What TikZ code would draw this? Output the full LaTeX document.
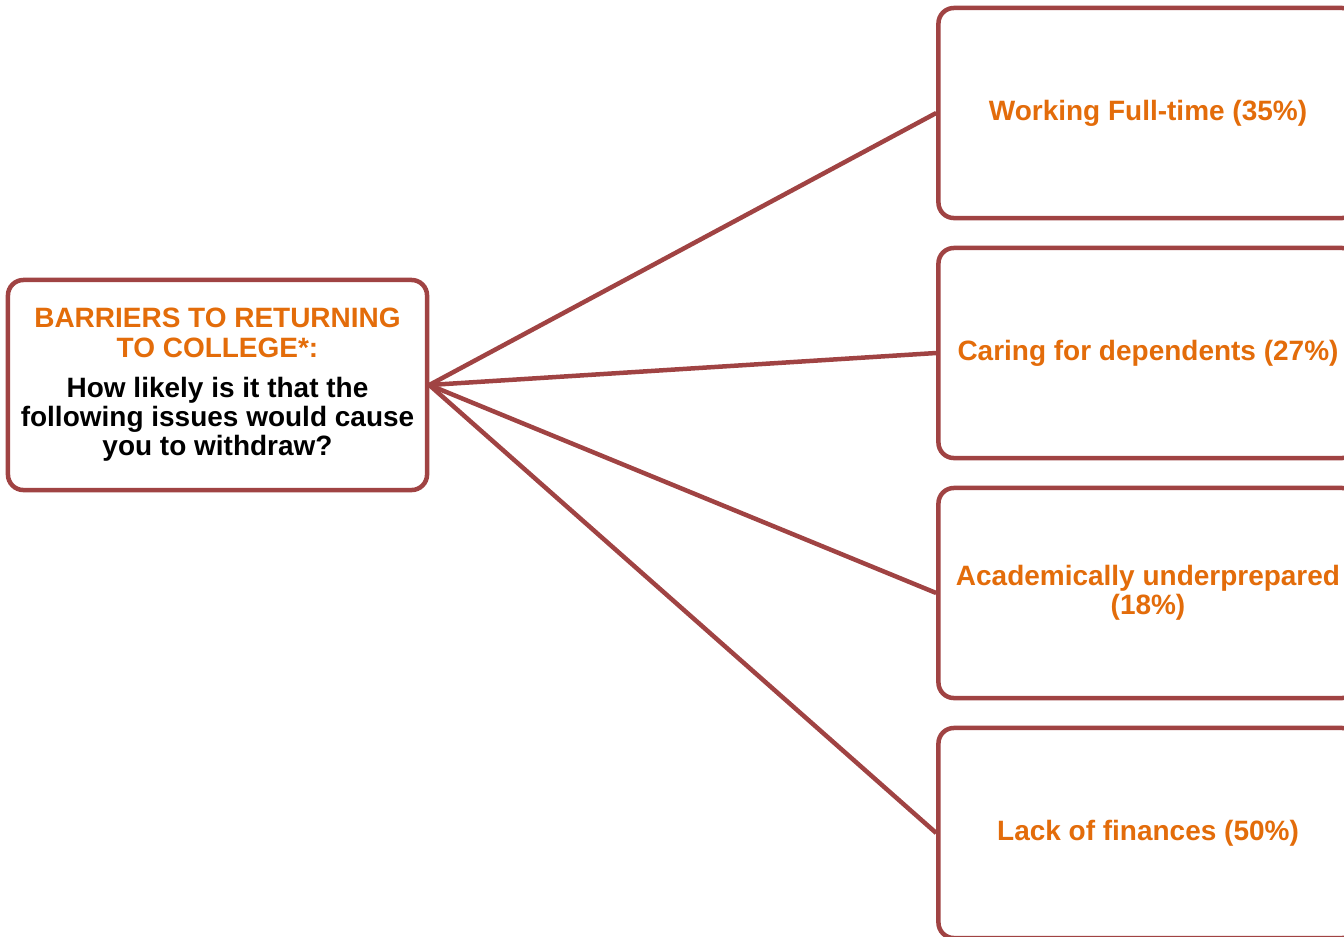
\documentclass[tikz,border=0pt]{standalone}
\usepackage{fontspec}
\setmainfont{Liberation Sans}
\definecolor{barrierred}{HTML}{A04343}
\definecolor{barrierorange}{HTML}{E36C0A}
\tikzset{>=latex}

\begin{document}
\begin{tikzpicture}[x=0.025cm,y=-0.025cm,
    box/.style={draw=barrierred,line width=3.2pt,rounded corners=11pt,fill=white,
      minimum width=10.475cm,minimum height=5.25cm,inner sep=0pt,align=center,
      font=\bfseries\fontsize{19.9}{20.8}\selectfont},
    reason/.style={box,text=barrierorange},
    link/.style={draw=barrierred,line width=3.2pt}]
            \useasboundingbox (0,0) rectangle (1344,936);
            \clip (0,0) rectangle (1344,936);
            \node[box] (barriers) at (217.5,385)
              {\textcolor{barrierorange}{BARRIERS TO RETURNING}\\
               \textcolor{barrierorange}{TO COLLEGE*:}\\[0.27cm]
               How likely is it that the\\following issues would cause\\you to withdraw?};
            \node[reason] (working) at (1148,113) {Working Full-time (35\%)};
            \node[reason] (caring) at (1148,353) {Caring for dependents (27\%)};
            \node[reason] (academic) at (1148,593) {Academically underprepared\\(18\%)};
            \node[reason] (finances) at (1148,833) {Lack of finances (50\%)};
            \foreach \r in {working,caring,academic,finances}
              \draw[link] (barriers.east) -- (\r.west);
        \end{tikzpicture}
\end{document}
